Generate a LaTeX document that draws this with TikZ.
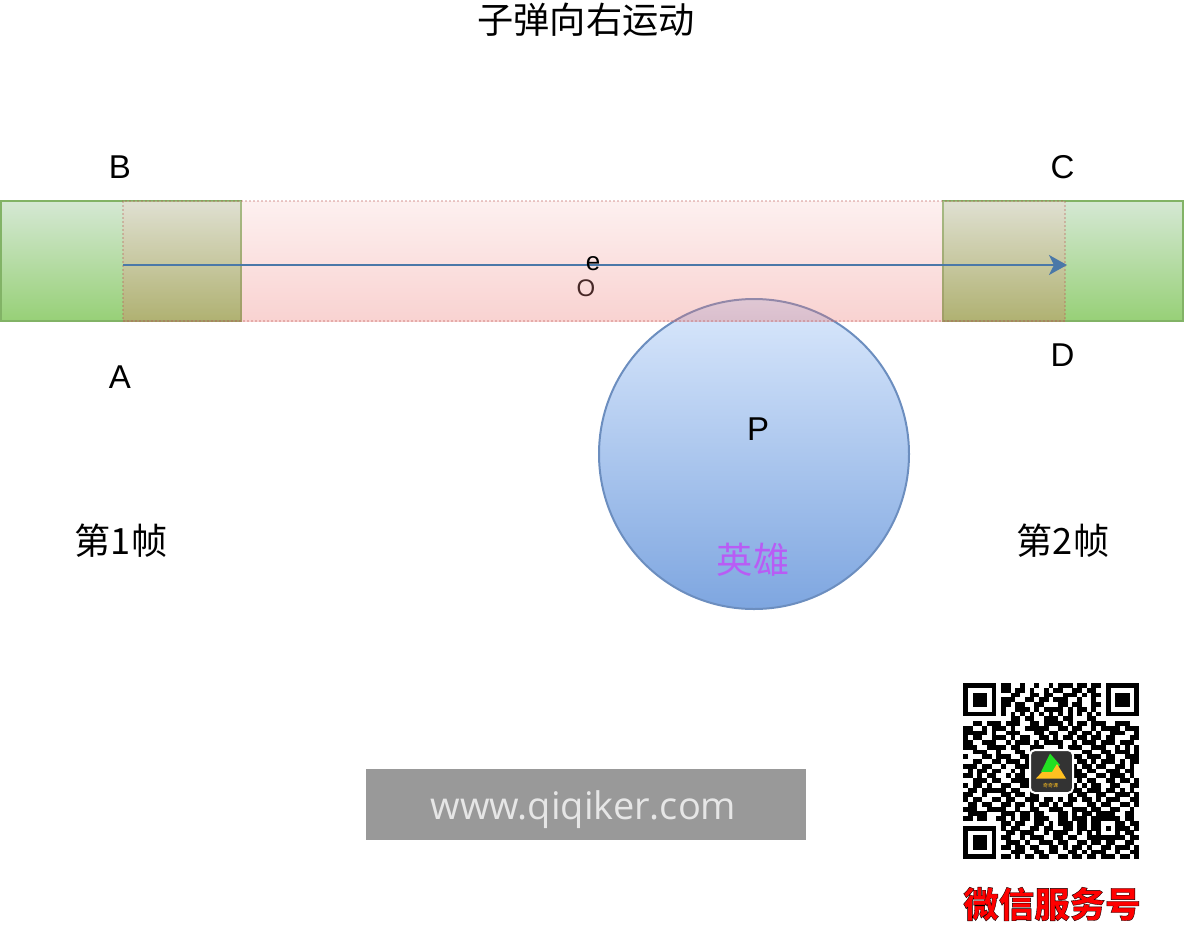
\documentclass[tikz,border=0pt]{standalone}
\usepackage{fontspec}
\usetikzlibrary{arrows.meta}
\setmainfont{Liberation Sans}
\newfontfamily\cjk{Noto Sans CJK SC}
\newfontfamily\urlfont{Open Sans}
\newfontfamily\wxfont[FakeBold=1]{Noto Sans CJK SC Black}
\definecolor{greenfrom}{HTML}{D5E8D4}
\definecolor{greento}{HTML}{97D077}
\definecolor{greenline}{HTML}{82B366}
\definecolor{redfrom}{HTML}{F8CECC}
\definecolor{redto}{HTML}{EA6B66}
\definecolor{redline}{HTML}{B85450}
\definecolor{bluefrom}{HTML}{DAE8FC}
\definecolor{blueto}{HTML}{7EA6E0}
\definecolor{blueline}{HTML}{6C8EBF}
\definecolor{arrowblue}{HTML}{4A78A8}
\definecolor{herotext}{HTML}{B85CF5}
\definecolor{urlgrey}{HTML}{999999}
\definecolor{urltext}{HTML}{E6E6E6}
\definecolor{logodark}{HTML}{333333}
\definecolor{logogreen}{HTML}{22E022}
\definecolor{logoyellow}{HTML}{FFC020}
\tikzset{
  label text/.style={inner sep=0pt,font=\fontsize{33}{36}\selectfont},
  cjk text/.style={inner sep=0pt,font=\cjk\fontsize{36.2}{40}\selectfont},
  frame box/.style={draw=greenline,line width=2pt,top color=greenfrom,bottom color=greento,
    minimum width=240pt,minimum height=120pt,inner sep=0pt,outer sep=0pt},
  path box/.style={draw=redline,line width=2pt,dotted,top color=redfrom,bottom color=redto,
    opacity=.3,minimum width=942pt,minimum height=120pt,inner sep=0pt,outer sep=0pt},
  hero/.style={circle,draw=blueline,line width=2pt,top color=bluefrom,bottom color=blueto,
    minimum size=310pt,inner sep=0pt,outer sep=0pt},
  motion/.style={draw=arrowblue,line width=2pt,-{Stealth[length=18pt,width=20pt,inset=5pt]}},
}
\newcount\qrc
\def\qrscan#1{\ifx#1\relax\else
  \if1#1\fill[black] (963+\the\qrc*4.757,683+\qrrowno*4.757) rectangle ++(4.85,4.85);\fi
  \global\advance\qrc by 1
  \expandafter\qrscan\fi}
\begin{document}
\begin{tikzpicture}[x=1pt,y=-1pt]
\useasboundingbox (0,0) rectangle (1202,946);
\node[frame box] (frame1) at (121,261) {};
\node[frame box] (frame2) at (1063,261) {};
\node[hero] (heroball) at (754,454) {};
\node[label text,font=\fontsize{24}{28}\selectfont] (O) at (586,288) {O};
\node[path box] (sweep) at (594,261) {};
\coordinate (from) at (123,265);
\coordinate (to) at (1067,265);
\draw[motion] (from) -- (to);
\node[cjk text] (title) at (586,20) {子弹向右运动};
\node[label text] (B) at (120,167) {B};
\node[label text] (A) at (120,377) {A};
\node[label text] (C) at (1062.5,167) {C};
\node[label text] (D) at (1062.5,355) {D};
\node[label text,font=\fontsize{26}{28}\selectfont] (e) at (593,264) {e};
\node[label text] (P) at (758,429) {P};
\node[cjk text,text=herotext] (herolabel) at (753,560) {英雄};
\node[cjk text] (f1) at (121,541) {第1帧};
\node[cjk text] (f2) at (1063,541) {第2帧};
\node[fill=urlgrey,minimum width=440pt,minimum height=71pt,inner sep=0pt,outer sep=0pt] (url) at (586,804.5) {};
\node[inner sep=0pt,text=urltext,font=\urlfont\fontsize{38}{40}\selectfont] (urllabel) at (583.5,809.5) {www.qiqiker.com};
% QR code
\foreach \r [count=\qrrowcount from 0] in {
1111111 0 11001001001 0111011011 0 1111111,
1000001 0 11011010010 1100110110 0 1000001,
1011101 0 00110011011 0011101011 0 1011101,
1011101 0 11100110110 1110010010 0 1011101,
1011101 0 11011001100 0110110011 0 1011101,
1000001 0 10011101011 1101011010 0 1000001,
1111111 0 10101010101 0101010101 0 1111111,
0000000 0 00110110011 1011000110 0 0000000,
0011011101110011011 110101101110011100,
1100101110100111110 011011001011110111,
1111101001110001101 100110110100111001,
1011001110101100110 101101101101100011,
1100111001011101011 110010111011101110,
1110011110110011100 010111001110010101,
0011100100011010000 000000110011011101,
1000110111001110000 000011011101100111,
0011001101110101000 000101101011101011,
1110110010011100000 000010110110011010,
0101101100101011000 000111011001110110,
1101011001011011000 000011100110111010,
0011101100111101000 000101011001101101,
1011010011001101000 000110101100110011,
0110111110110010000 000011011101101010,
1100100011011011000 000101100110011101,
1011001101100111011 010110110101110011,
0110110011011010110 101100011011001101,
1110011110010011001 110011101100110010,
0111100011101101100 011010110111100110,
1101100110101101110011011101 11111 0110,
00000000 11011001101011101101 10001 1011,
1111111 0 10110011011001101101 10101 1101,
1000001 0 01101110010111001010 10001 0110,
1011101 0 11001011100110110011 11111 1011,
1011101 0 01110100111011001101 101100110,
1011101 0 11011011001101011010 011011101,
1000001 0 00111001101100110101 110010011,
1111111 0 11010110110011011011 011101101}{
  \pgfmathtruncatemacro\qrrowno{\qrrowcount}
  \global\qrc=0
  \expandafter\qrscan\r\relax
}
\node[rounded corners=5pt,fill=logodark,draw=white,line width=2pt,minimum size=43pt,inner sep=0pt] (logo) at (1051.5,771.5) {};
\fill[logogreen] (1050,753.5) -- (1060,765) -- (1052,772) -- (1041,772) -- cycle;
\fill[logoyellow] (1036,778.5) -- (1042,772) -- (1052,772) -- (1057,764) -- (1066,778.5) -- cycle;
\node[inner sep=0pt,text=logoyellow,font=\cjk\fontsize{5}{6}\selectfont] (logotext) at (1050.5,785.5) {奇奇课};
\node[inner sep=0pt,font=\wxfont\fontsize{35.5}{38}\selectfont] (wx) at (1052,904)
  {\special{pdf:bcolor [1 0 0] [0 0 0]}微信服务号\special{pdf:ecolor}};
\end{tikzpicture}
\end{document}
